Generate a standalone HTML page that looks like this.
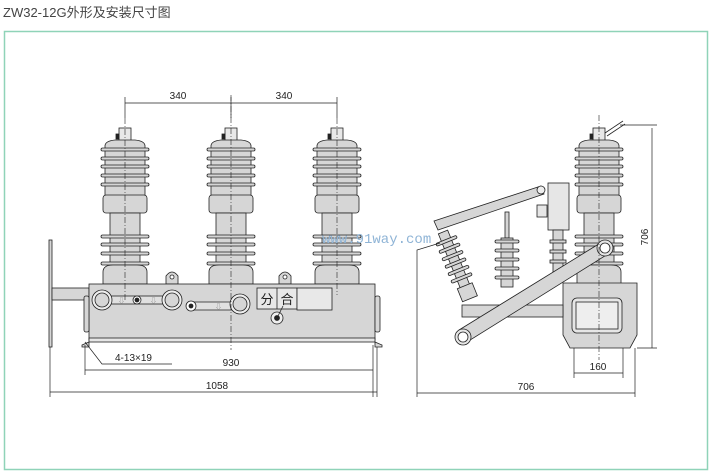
<!DOCTYPE html>
<html><head><meta charset="utf-8"><style>
html,body{margin:0;padding:0;background:#fff;width:712px;height:475px;overflow:hidden}
svg{display:block}
</style></head><body>
<svg width="712" height="475" viewBox="0 0 712 475" xmlns="http://www.w3.org/2000/svg" font-family="Liberation Sans, Noto Sans CJK SC, sans-serif">
<defs>
<g id="ins" stroke="#222" stroke-width="0.8" fill="#d6d6d6">
  <rect x="-6" y="-18" width="12" height="14" fill="#e8e8e8"/>
  <rect x="-9" y="-12" width="3" height="5" fill="#222"/>
  <path d="M-20,0 Q-20,-5 -10,-6 L10,-6 Q20,-5 20,0 L20,55 L-20,55 Z"/>
  <rect x="-24" y="2" width="48" height="3" rx="1.5"/>
  <rect x="-24" y="11" width="48" height="3" rx="1.5"/>
  <rect x="-24" y="19" width="48" height="3" rx="1.5"/>
  <rect x="-24" y="28" width="48" height="3" rx="1.5"/>
  <rect x="-24" y="37" width="48" height="3" rx="1.5"/>
  <rect x="-22" y="49" width="44" height="18" rx="3"/>
  <rect x="-15" y="67" width="30" height="52"/>
  <rect x="-24" y="89" width="48" height="3" rx="1.5"/>
  <rect x="-24" y="97" width="48" height="3" rx="1.5"/>
  <rect x="-24" y="106" width="48" height="3" rx="1.5"/>
  <rect x="-24" y="116" width="48" height="3" rx="1.5"/>
  <path d="M-22,138 L-22,126 Q-22,119 -12,119 L12,119 Q22,119 22,126 L22,138 Z"/>
</g>
</defs>

<text x="3" y="17" font-size="13" fill="#444">ZW32-12G外形及安装尺寸图</text>
<rect x="4.5" y="31.5" width="703" height="438" fill="none" stroke="#8fd3b8" stroke-width="1.5"/>

<g stroke="#222" stroke-width="0.7" fill="none">
  <line x1="125" y1="97" x2="125" y2="118"/>
  <line x1="231" y1="97" x2="231" y2="118"/>
  <line x1="337" y1="97" x2="337" y2="118"/>
  <line x1="125" y1="103" x2="337" y2="103"/>
</g>
<text x="178" y="99" font-size="10" text-anchor="middle" fill="#222">340</text>
<text x="284" y="99" font-size="10" text-anchor="middle" fill="#222">340</text>

<use href="#ins" x="125" y="146"/>
<use href="#ins" x="231" y="146"/>
<use href="#ins" x="337" y="146"/>

<g stroke="#222" stroke-width="0.8" fill="#d6d6d6">
  <path d="M166,284 L166,276 Q172,268 178,276 L178,284 Z"/>
  <circle cx="172" cy="277" r="2" fill="#fff"/>
  <path d="M279,284 L279,276 Q285,268 291,276 L291,284 Z"/>
  <circle cx="285" cy="277" r="2" fill="#fff"/>
  <rect x="49" y="240" width="3" height="107"/>
  <rect x="52" y="288" width="37" height="12"/>
  <rect x="89" y="284" width="286" height="56"/>
  <rect x="89" y="338" width="286" height="4" fill="#e6e6e6"/>
  <rect x="84" y="296" width="5" height="36" rx="2"/>
  <rect x="375" y="296" width="5" height="36" rx="2"/>
  <path d="M82,345 L89,342 L89,347 L82,347 Z"/>
  <path d="M375,342 L382,345 L382,347 L375,347 Z"/>
  <rect x="102" y="296" width="70" height="8" fill="#e0e0e0"/>
  <circle cx="102" cy="300" r="10" fill="#eee"/>
  <circle cx="102" cy="300" r="7"/>
  <circle cx="172" cy="300" r="10" fill="#eee"/>
  <circle cx="172" cy="300" r="7"/>
  <circle cx="137" cy="300" r="4" fill="#fff"/>
  <circle cx="137" cy="300" r="2" fill="#222"/>
  <rect x="190" y="302" width="50" height="8" rx="4" fill="#e0e0e0"/>
  <circle cx="191" cy="306" r="5" fill="#fff"/>
  <circle cx="191" cy="306" r="2" fill="#222"/>
  <circle cx="240" cy="304" r="10" fill="#eee"/>
  <circle cx="240" cy="304" r="7"/>
  <rect x="257" y="288" width="40" height="21" fill="#e8e8e8"/>
  <line x1="277" y1="288" x2="277" y2="309"/>
  <rect x="297" y="288" width="35" height="22" fill="#e8e8e8"/>
  <circle cx="277" cy="318" r="6" fill="#eee"/>
  <circle cx="277" cy="318" r="2.5" fill="#222"/>
  <line x1="277" y1="318" x2="283" y2="306"/>
</g>
<text x="267" y="304" font-size="13" text-anchor="middle" fill="#222">分</text>
<text x="287" y="304" font-size="13" text-anchor="middle" fill="#222">合</text>
<g fill="#888" font-size="7">
  <text x="118" y="303">⇩</text><text x="150" y="303">⇩</text><text x="215" y="309">⇩</text>
</g>

<line x1="231" y1="95" x2="231" y2="350" stroke="#222" stroke-width="0.6" stroke-dasharray="6,2,1,2"/>
<line x1="125" y1="118" x2="125" y2="300" stroke="#222" stroke-width="0.6" stroke-dasharray="6,2,1,2"/>
<line x1="337" y1="118" x2="337" y2="295" stroke="#222" stroke-width="0.6" stroke-dasharray="6,2,1,2"/>

<g stroke="#222" stroke-width="0.7" fill="none">
  <polyline points="85,342 102,364 172,364"/>
  <line x1="85" y1="345" x2="85" y2="375"/>
  <line x1="373" y1="345" x2="373" y2="397"/>
  <line x1="50" y1="347" x2="50" y2="397"/>
  <line x1="377" y1="347" x2="377" y2="397"/>
  <line x1="85" y1="370" x2="373" y2="370"/>
  <line x1="50" y1="392" x2="377" y2="392"/>
</g>
<text x="115" y="361" font-size="10" fill="#222">4-13×19</text>
<text x="231" y="366" font-size="10" text-anchor="middle" fill="#222">930</text>
<text x="217" y="389" font-size="10" text-anchor="middle" fill="#222">1058</text>

<text x="322" y="243" font-size="14" fill="#8fb4d6" font-family="Liberation Mono, monospace">www.91way.com</text>

<use href="#ins" x="599" y="146"/>
<g stroke="#222" stroke-width="0.8" fill="#d6d6d6">
  <line x1="605" y1="133" x2="623" y2="121"/>
  <line x1="607" y1="136" x2="625" y2="124"/>
  <path d="M563,283 L637,283 L637,335 L630,348 L570,348 L563,335 Z"/>
  <rect x="572" y="298" width="50" height="35" rx="5" fill="#e6e6e6"/>
  <rect x="576" y="302" width="42" height="27" fill="#eee"/>
  <rect x="462" y="305" width="101" height="12"/>
  <polygon points="434,221 541,186 544,194 438,230"/>
  <circle cx="541" cy="190" r="4" fill="#eee"/>
  <rect x="548" y="183" width="21" height="47" fill="#e6e6e6"/>
  <rect x="537" y="205" width="10" height="12" fill="#e6e6e6"/>
  <g transform="translate(443,232) rotate(-22)">
    <rect x="-5" y="0" width="10" height="70"/>
    <rect x="-11" y="8" width="22" height="3" rx="1.5"/>
    <rect x="-11" y="16" width="22" height="3" rx="1.5"/>
    <rect x="-11" y="24" width="22" height="3" rx="1.5"/>
    <rect x="-11" y="32" width="22" height="3" rx="1.5"/>
    <rect x="-11" y="40" width="22" height="3" rx="1.5"/>
    <rect x="-11" y="48" width="22" height="3" rx="1.5"/>
    <rect x="-8" y="58" width="16" height="14"/>
  </g>
  <rect x="505" y="212" width="4" height="26"/>
  <rect x="501" y="238" width="12" height="49"/>
  <rect x="495" y="240" width="24" height="3" rx="1.5"/>
  <rect x="495" y="249" width="24" height="3" rx="1.5"/>
  <rect x="495" y="258" width="24" height="3" rx="1.5"/>
  <rect x="495" y="267" width="24" height="3" rx="1.5"/>
  <rect x="495" y="276" width="24" height="3" rx="1.5"/>
  <rect x="553" y="230" width="10" height="45"/>
  <rect x="550" y="240" width="16" height="3"/>
  <rect x="550" y="250" width="16" height="3"/>
  <rect x="550" y="260" width="16" height="3"/>
  <polygon points="459,330 602,242 608,254 467,342"/>
  <circle cx="463" cy="337" r="8" fill="#e6e6e6"/>
  <circle cx="463" cy="337" r="5" fill="#fff"/>
  <circle cx="605" cy="248" r="8" fill="#e6e6e6"/>
  <circle cx="605" cy="248" r="5" fill="#fff"/>
</g>
<line x1="599" y1="115" x2="599" y2="360" stroke="#222" stroke-width="0.6" stroke-dasharray="6,2,1,2"/>

<g stroke="#222" stroke-width="0.7" fill="none">
  <line x1="620" y1="125" x2="657" y2="125"/>
  <line x1="637" y1="348" x2="657" y2="348"/>
  <line x1="652" y1="128" x2="652" y2="348"/>
  <polyline points="440,243 417,250 417,397"/>
  <line x1="635" y1="348" x2="635" y2="397"/>
  <line x1="417" y1="393" x2="635" y2="393"/>
  <line x1="574" y1="348" x2="574" y2="378"/>
  <line x1="623" y1="348" x2="623" y2="378"/>
  <line x1="574" y1="373" x2="623" y2="373"/>
</g>
<text x="526" y="390" font-size="10" text-anchor="middle" fill="#222">706</text>
<text x="598" y="370" font-size="10" text-anchor="middle" fill="#222">160</text>
<text x="0" y="0" font-size="10" text-anchor="middle" fill="#222" transform="translate(648,237) rotate(-90)">706</text>
</svg>
</body></html>
